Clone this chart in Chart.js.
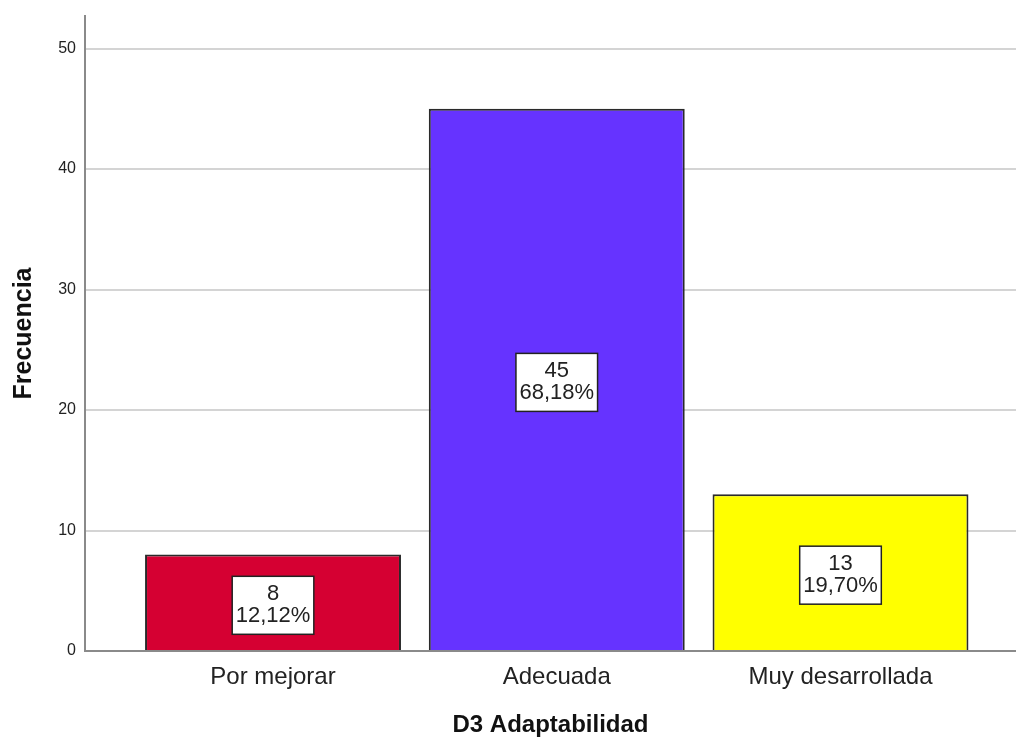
<!DOCTYPE html>
<html lang="es">
<head>
  <meta charset="utf-8">
  <script src="https://cdn.jsdelivr.net/npm/chart.js@4/dist/chart.umd.min.js"></script>
  <title>D3 Adaptabilidad</title>
  <style>
    body { margin: 0; background: #fff; }
    #wrap { width: 1016px; height: 740px; }
  </style>
</head>
<body>
<div id="wrap"><canvas id="bar-chart" width="1016" height="740"></canvas></div>
<script>
const categories = ['Por mejorar', 'Adecuada', 'Muy desarrollada'];
const counts = [8, 45, 13];
const percents = ['12,12%', '68,18%', '19,70%'];
const barColors = ['#d50032', '#6633ff', '#ffff00'];
const yTicks = [0, 10, 20, 30, 40, 50];

const FONT = "'Liberation Sans', Arial, sans-serif";

// white boxes with count + percent inside each bar
const boxLabels = {
  id: 'boxLabels',
  afterDatasetsDraw(chart) {
    const ctx = chart.ctx;
    const meta = chart.getDatasetMeta(0);
    ctx.save();
    ctx.font = '22px ' + FONT;
    meta.data.forEach((bar, i) => {
      const l1 = String(counts[i]), l2 = percents[i];
      const w = Math.max(ctx.measureText(l1).width, ctx.measureText(l2).width) + 7;
      const h = 58;
      const cx = bar.x, cy = (bar.y + bar.base) / 2 + 3;
      ctx.fillStyle = '#fff';
      ctx.fillRect(cx - w / 2, cy - h / 2, w, h);
      ctx.strokeStyle = '#222';
      ctx.lineWidth = 1.5;
      ctx.strokeRect(cx - w / 2, cy - h / 2, w, h);
      ctx.fillStyle = '#222';
      ctx.textAlign = 'center';
      ctx.textBaseline = 'middle';
      ctx.fillText(l1, cx, cy - 11);
      ctx.fillText(l2, cx, cy + 11);
    });
    ctx.restore();
  }
};

const chart = new Chart(document.getElementById('bar-chart'), {
  type: 'bar',
  data: {
    datasets: [{
      data: counts.map((v, i) => ({ x: i, y: v })),
      backgroundColor: barColors,
      borderColor: '#2a2a2a',
      borderWidth: 2,
      categoryPercentage: 1.0,
      barPercentage: 0.902
    }]
  },
  options: {
    responsive: false,
    animation: false,
    layout: { padding: { top: 16, right: 0, left: 0, bottom: 0 } },
    plugins: { legend: { display: false }, tooltip: { enabled: false } },
    scales: {
      x: {
        type: 'linear',
        offset: false,
        min: -0.6626,
        max: 2.6185,
        afterBuildTicks: s => { s.ticks = categories.map((c, i) => ({ value: i })); },
        afterFit: s => { s.height = 89; s.paddingLeft = 0; s.paddingRight = 0; },
        grid: { display: false, drawTicks: false, offset: false },
        border: { display: true, color: '#8a8a8a', width: 2 },
        ticks: {
          callback: v => categories[v],
          font: { family: FONT, size: 24 },
          color: '#222',
          padding: 12,
          autoSkip: false,
          maxRotation: 0
        },
        title: {
          display: true,
          text: 'D3 Adaptabilidad',
          font: { family: FONT, size: 24, weight: 'bold' },
          color: '#111',
          padding: { top: 0, bottom: 0 }
        }
      },
      y: {
        min: 0,
        max: 52.7,
        afterBuildTicks: s => { s.ticks = yTicks.map(v => ({ value: v })); },
        afterFit: s => { s.width = 85; s.paddingTop = 0; s.paddingBottom = 0; },
        grid: { color: '#d4d4d4', lineWidth: 2, drawTicks: false },
        border: { display: true, color: '#8a8a8a', width: 2 },
        ticks: {
          font: { family: FONT, size: 16 },
          color: '#222',
          padding: 9
        },
        title: {
          display: true,
          text: 'Frecuencia',
          font: { family: FONT, size: 25, weight: 'bold' },
          color: '#111',
          padding: { top: 9, bottom: 0 }
        }
      }
    }
  },
  plugins: [boxLabels]
});
</script>
</body>
</html>
